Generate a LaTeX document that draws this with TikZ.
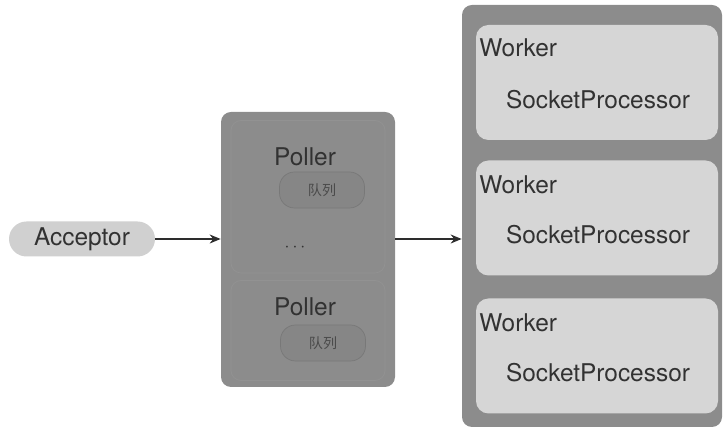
\documentclass[tikz,border=0pt]{standalone}
\usepackage{fontspec}
\setmainfont{TeX Gyre Heros}
\newfontfamily\cjk{Noto Sans CJK SC}
\usetikzlibrary{arrows.meta}

\begin{document}
\begin{tikzpicture}[
	every node/.style={text=textgray, font=\fontsize{13.9}{16}\selectfont},
	outerbox/.style={fill=boxgray, rounded corners=0.2cm},
	innerbox/.style={fill=lightbox, rounded corners=0.25cm, minimum width=4.84cm, minimum height=2.30cm},
	queuebox/.style={fill=queuegray, draw=queueline, line width=0.4pt, rounded corners=0.3cm, minimum width=1.70cm, minimum height=0.72cm, text=queuetext, font=\cjk\fontsize{8}{10}\selectfont},
	flow/.style={-{Stealth[length=2.2mm,width=1.8mm]}, line width=0.9pt, draw=arrowgray}
]
\definecolor{textgray}{RGB}{50,50,50}
\definecolor{boxgray}{RGB}{140,140,140}
\definecolor{lightbox}{RGB}{214,214,214}
\definecolor{accgray}{RGB}{208,208,208}
\definecolor{queuegray}{RGB}{134,134,134}
\definecolor{queueline}{RGB}{120,120,120}
\definecolor{queuetext}{RGB}{75,75,75}
\definecolor{faintline}{RGB}{146,146,146}
\definecolor{arrowgray}{RGB}{45,45,45}

	\useasboundingbox (0,0) rectangle (14.54,8.66);
	
	% acceptor
	\node[fill=accgray, rounded corners=0.35cm, minimum width=2.92cm, minimum height=0.70cm] (acceptor) at (1.64,3.88){Acceptor};
	
	% poller group
	\node[outerbox, minimum width=3.48cm, minimum height=5.50cm] (poller) at (6.16,3.67){};
	\draw[faintline, rounded corners=0.2cm] (4.62,3.20) rectangle (7.70,6.25);
	\draw[faintline, rounded corners=0.2cm] (4.62,1.05) rectangle (7.70,3.05);
	
	\node (p1) at (6.10,5.52){Poller};
	\node[queuebox] (q1) at (6.44,4.86){队列};
	\node (dots) at (5.90,3.70){\fontsize{10}{12}\selectfont$\cdots$};
	\node (p2) at (6.10,2.52){Poller};
	\node[queuebox] (q2) at (6.46,1.80){队列};
	
	% worker group
	\node[outerbox, minimum width=5.20cm, minimum height=8.44cm] (workers) at (11.84,4.34){};
	
	\node[innerbox] (w1) at (11.94,7.01){};
	\node[innerbox] (w2) at (11.94,4.30){};
	\node[innerbox] (w3) at (11.94,1.54){};
	
	\node[anchor=west, inner sep=0pt] (wl1) at (9.58,7.70){Worker};
	\node[anchor=west, inner sep=0pt] (wl2) at (9.58,4.96){Worker};
	\node[anchor=west, inner sep=0pt] (wl3) at (9.58,2.20){Worker};
	
	\node (sp1) at (11.96,6.66){SocketProcessor};
	\node (sp2) at (11.96,3.96){SocketProcessor};
	\node (sp3) at (11.96,1.20){SocketProcessor};
	
	% arrows
	\draw[flow] (acceptor.east) -- (acceptor.east -| poller.west);
	\draw[flow] (acceptor.east -| poller.east) -- (acceptor.east -| workers.west);
	
\end{tikzpicture}
\end{document}
